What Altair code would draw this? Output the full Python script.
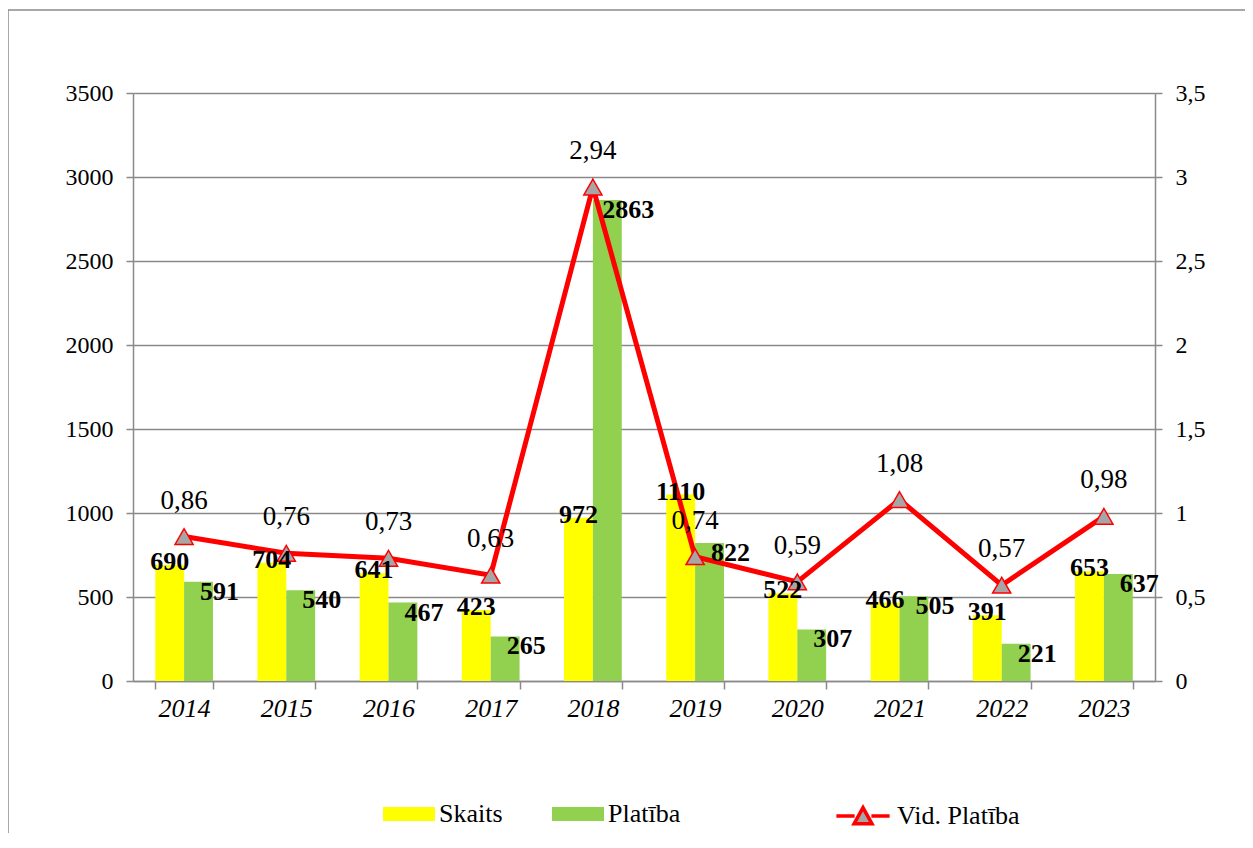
import altair as alt
import pandas as pd

years = ["2014", "2015", "2016", "2017", "2018", "2019", "2020", "2021", "2022", "2023"]
skaits = [690, 704, 641, 423, 972, 1110, 522, 466, 391, 653]
platiba = [591, 540, 467, 265, 2863, 822, 307, 505, 221, 637]
vid_platiba = [0.86, 0.76, 0.73, 0.63, 2.94, 0.74, 0.59, 1.08, 0.57, 0.98]

series_names = ["Skaits", "Platība"]
line_name = "Vid. Platība"

bars_df = pd.DataFrame(
    [{"year": y, "series": "Skaits", "value": v} for y, v in zip(years, skaits)]
    + [{"year": y, "series": "Platība", "value": v} for y, v in zip(years, platiba)]
)
line_df = pd.DataFrame({"year": years, "vid": vid_platiba, "series": [line_name] * len(years)})

FONT = "Liberation Serif, Times New Roman, serif"
GRAY = "#8a8a8a"

x_enc = alt.X(
    "year:N",
    sort=years,
    title=None,
    scale=alt.Scale(paddingInner=0.435, paddingOuter=0.2175),
    axis=alt.Axis(
        labelAngle=0,
        labelFont=FONT,
        labelFontSize=26,
        labelFontStyle="italic",
        labelColor="black",
        labelPadding=6,
        tickBand="extent",
        tickSize=8,
        tickColor=GRAY,
        tickWidth=1.5,
        domainColor=GRAY,
        domainWidth=1.5,
        grid=False,
    ),
)
xoff = alt.XOffset("series:N", sort=series_names, scale=alt.Scale(domain=series_names, paddingInner=0, paddingOuter=0))
y_left = alt.Y(
    "value:Q",
    scale=alt.Scale(domain=[0, 3500]),
    title=None,
    axis=alt.Axis(
        orient="left",
        values=[0, 500, 1000, 1500, 2000, 2500, 3000, 3500],
        format="d",
        labelFont=FONT,
        labelFontSize=24,
        labelColor="black",
        labelPadding=13,
        tickSize=7,
        tickColor=GRAY,
        tickWidth=1.5,
        domainColor=GRAY,
        domainWidth=1.5,
        grid=True,
        gridColor=GRAY,
        gridWidth=1.5,
    ),
)
y_left_noaxis = alt.Y("value:Q", scale=alt.Scale(domain=[0, 3500]), title=None, axis=None)

bars = alt.Chart(bars_df).mark_bar().encode(
    x=x_enc,
    xOffset=xoff,
    y=y_left,
    color=alt.Color(
        "series:N",
        sort=series_names,
        scale=alt.Scale(domain=series_names, range=["#FFFF00", "#92D050"]),
        legend=alt.Legend(
            title=None,
            orient="none",
            legendX=250,
            legendY=695,
            direction="horizontal",
            columns=2,
            gridAlign="all",
            columnPadding=40,
            padding=0,
            symbolType="M-1,-0.27L1,-0.27L1,0.27L-1,0.27Z",
            symbolSize=2704,
            symbolStrokeWidth=0,
            labelFont=FONT,
            labelFontSize=26,
            labelColor="black",
            labelOffset=4,
            labelLimit=300,
        ),
    ),
)

skaits_text = alt.Chart(bars_df).transform_filter(alt.datum.series == "Skaits").mark_text(
    font=FONT, fontSize=26, fontWeight="bold", color="black", baseline="middle", dy=-3
).encode(x=x_enc, xOffset=xoff, y=y_left_noaxis, text=alt.Text("value:Q", format="d"))

platiba_text = alt.Chart(bars_df).transform_filter(alt.datum.series == "Platība").mark_text(
    font=FONT, fontSize=26, fontWeight="bold", color="black", baseline="middle", dx=21, dy=10
).encode(x=x_enc, xOffset=xoff, y=y_left_noaxis, text=alt.Text("value:Q", format="d"))

bar_labels = alt.layer(skaits_text, platiba_text)

y_right = alt.Y(
    "vid:Q",
    scale=alt.Scale(domain=[0, 3.5]),
    title=None,
    axis=alt.Axis(
        orient="right",
        values=[0, 0.5, 1, 1.5, 2, 2.5, 3, 3.5],
        labelExpr="replace(format(datum.value, '~g'), '.', ',')",
        labelFont=FONT,
        labelFontSize=24,
        labelColor="black",
        labelPadding=13,
        tickSize=7,
        tickColor=GRAY,
        tickWidth=1.5,
        domainColor=GRAY,
        domainWidth=1.5,
        grid=False,
    ),
)

line = alt.Chart(line_df).mark_line(strokeWidth=5).encode(
    x=x_enc,
    y=y_right,
    stroke=alt.Stroke(
        "series:N",
        scale=alt.Scale(domain=[line_name], range=["#FF0000"]),
        legend=alt.Legend(
            title=None,
            orient="none",
            legendX=700,
            legendY=693,
            padding=0,
            symbolType="M-0.95,0L-0.3,0M0.3,0L0.95,0M-0.32,0.28L0,-0.3L0.32,0.28Z",
            symbolSize=3136,
            symbolStrokeWidth=3.5,
            symbolFillColor="#A6A6A6",
            labelFont=FONT,
            labelFontSize=26,
            labelColor="black",
            labelOffset=4,
            labelLimit=300,
        ),
    ),
)

points = alt.Chart(line_df).mark_point(
    shape="triangle-up", size=330, filled=True, fill="#A6A6A6", stroke="#FF0000", strokeWidth=1.5, opacity=1
).encode(x=x_enc, y=y_right)

avg_text = alt.Chart(line_df).transform_calculate(
    lbl="replace(format(datum.vid, '.2f'), '.', ',')"
).mark_text(font=FONT, fontSize=27, color="black", baseline="middle", dy=-36).encode(
    x=x_enc, y=y_right, text="lbl:N"
)

right = alt.layer(line, points, avg_text)

frame = alt.Chart(pd.DataFrame({"a": [0]})).mark_rect(
    fill="transparent", stroke="#8c8c8c", strokeWidth=1.5
).encode(x=alt.value(-125), x2=alt.value(1400), y=alt.value(-83), y2=alt.value(900))

chart = (
    alt.layer(bars, right, bar_labels, frame)
    .resolve_scale(y="independent")
    .properties(
        width=1022,
        height=588,
        autosize=alt.AutoSizeParams(type="none"),
        padding={"left": 125, "top": 85, "right": 90, "bottom": 152},
    )
    .configure_view(stroke=None)
    .configure(background="white")
)

chart.save("out.html", embed_options={"renderer": "svg", "actions": False})
